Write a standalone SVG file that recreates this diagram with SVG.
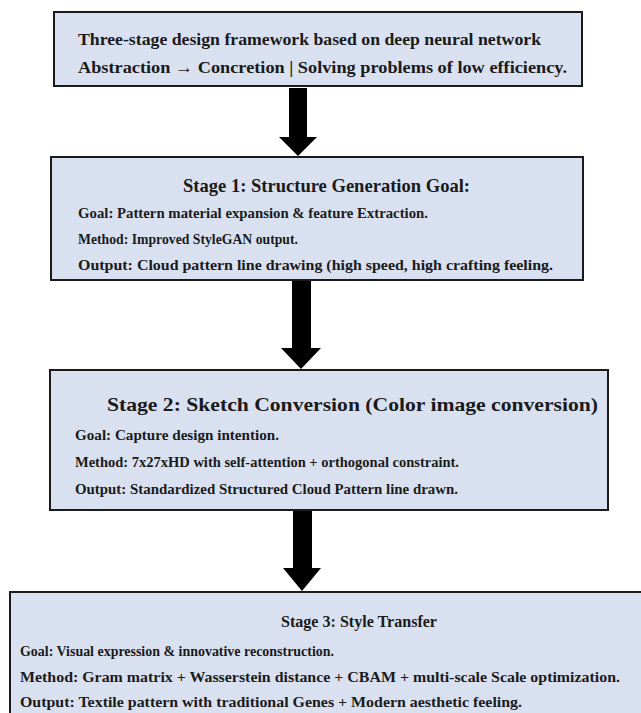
<svg xmlns="http://www.w3.org/2000/svg" width="641" height="713" viewBox="0 0 641 713">
<style>
.box{fill:#d9e1f1;stroke:#1a1a1a;stroke-width:2}
text{font-family:"Liberation Serif","Times New Roman",serif;font-weight:bold;fill:#1a1a1a}
.h{font-size:17px}
.t{font-size:19.5px}
.t3{font-size:17.5px}
.b{font-size:15px}
.arrow{fill:#000}
</style>
<rect width="641" height="713" fill="#ffffff"/>
<g id="intro">
<rect class="box" x="54" y="12" width="528" height="74"/>
<text class="h" x="78" y="45" textLength="463" lengthAdjust="spacingAndGlyphs">Three-stage design framework based on deep neural network</text>
<text class="h" x="78" y="73" textLength="489" lengthAdjust="spacingAndGlyphs">Abstraction → Concretion | Solving problems of low efficiency.</text>
</g>
<g id="stage1">
<rect class="box" x="51" y="157" width="532" height="123"/>
<text class="t" x="183" y="192" textLength="287" lengthAdjust="spacingAndGlyphs">Stage 1: Structure Generation Goal:</text>
<text class="b" x="78" y="218" textLength="350" lengthAdjust="spacingAndGlyphs">Goal: Pattern material expansion &amp; feature Extraction.</text>
<text class="b" x="78" y="244" textLength="220" lengthAdjust="spacingAndGlyphs">Method: Improved StyleGAN output.</text>
<text class="b" x="78" y="270" textLength="475" lengthAdjust="spacingAndGlyphs">Output:  Cloud pattern line drawing (high speed, high crafting feeling.</text>
</g>
<g id="stage2">
<rect class="box" x="50" y="370" width="558" height="140"/>
<text class="t" x="107" y="411" textLength="491" lengthAdjust="spacingAndGlyphs">Stage 2: Sketch Conversion (Color image conversion)</text>
<text class="b" x="75" y="440" textLength="204" lengthAdjust="spacingAndGlyphs">Goal: Capture design intention.</text>
<text class="b" x="75" y="467" textLength="384" lengthAdjust="spacingAndGlyphs">Method: 7x27xHD with self-attention + orthogonal constraint.</text>
<text class="b" x="75" y="494" textLength="383" lengthAdjust="spacingAndGlyphs">Output:  Standardized Structured Cloud Pattern line drawn.</text>
</g>
<g id="stage3">
<rect class="box" x="10" y="592" width="640" height="130"/>
<text class="t3" x="281" y="627" textLength="156" lengthAdjust="spacingAndGlyphs">Stage 3: Style Transfer</text>
<text class="b" x="20" y="656" textLength="314" lengthAdjust="spacingAndGlyphs">Goal: Visual expression &amp; innovative reconstruction.</text>
<text class="b" x="20" y="682" textLength="600" lengthAdjust="spacingAndGlyphs">Method: Gram matrix + Wasserstein distance + CBAM + multi-scale Scale optimization.</text>
<text class="b" x="20" y="707" textLength="502" lengthAdjust="spacingAndGlyphs">Output: Textile pattern with traditional Genes + Modern aesthetic feeling.</text>
</g>
<g id="connectors">
<polygon class="arrow" points="289,88 307,88 307,137 317,137 298,156 279,137 289,137"/>
<polygon class="arrow" points="292,281 311,281 311,348 321,348 301,369 281,348 292,348"/>
<polygon class="arrow" points="293,511 312,511 312,568 321,568 302,591 283,568 293,568"/>
</g>
</svg>
